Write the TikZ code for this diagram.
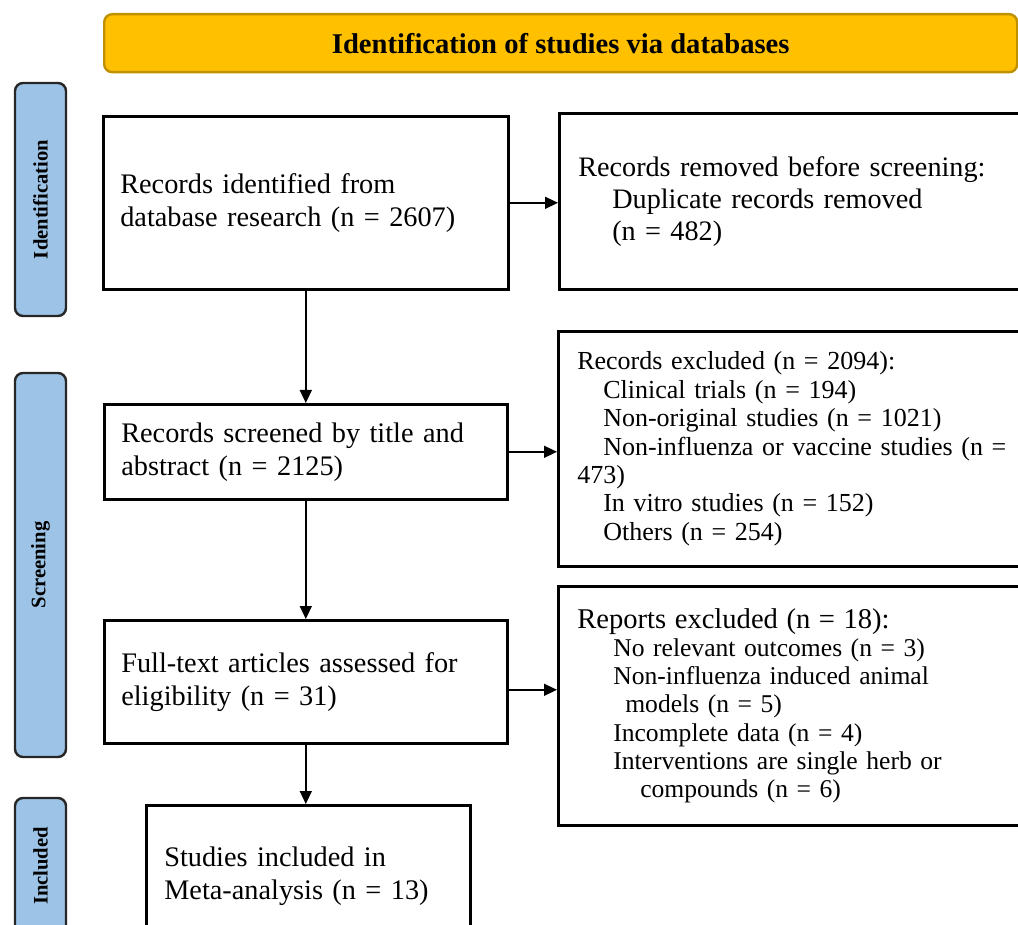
\documentclass[tikz,border=0pt]{standalone}
\usepackage{fontspec}
\setmainfont{Liberation Serif}
\usetikzlibrary{arrows.meta}
\definecolor{bannerfill}{HTML}{FFC000}
\definecolor{bannerline}{HTML}{BF9000}
\definecolor{phaseblue}{HTML}{9DC3E6}

\begin{document}
\begin{tikzpicture}[x=0.5pt, y=-0.5pt,
    box/.style={draw, line width=1.3pt, rectangle, anchor=north west, align=left, inner xsep=8.5pt},
    ltext/.style={font=\fontsize{14.15pt}{16.5pt}\selectfont},
    rtext/.style={font=\fontsize{13pt}{14.2pt}\selectfont},
    phase/.style={draw=black!85, line width=1.2pt, fill=phaseblue, rounded corners=4pt, rotate=90,
        minimum height=25.5pt, inner sep=0pt, font=\bfseries\fontsize{10.3pt}{12pt}\selectfont},
    arr/.style={line width=0.75pt, -{Triangle[length=6.5pt,width=6pt]}}]
    %%%%% START %%%%%
    \useasboundingbox (0,0) rectangle (1018,925);
    \clip (0,0) rectangle (1018,925);

    % banner
    \node[draw=bannerline, line width=1.2pt, fill=bannerfill, rounded corners=4pt, anchor=north west,
        minimum width=456.5pt, minimum height=29pt, font=\bfseries\fontsize{14.3pt}{16pt}\selectfont]
        (banner) at (103,13) {Identification of studies via databases};

    % phases
    \node[phase, minimum width=116.5pt] (ident) at (40.5,199.5) {Identification};
    \node[phase, minimum width=192pt] (screen) at (40.5,565) {Screening};
    \node[phase, minimum width=68pt] (incl) at (40.5,866) {Included};

    % left column
    \node[box, ltext, text width=185.5pt, minimum height=86.5pt] (records) at (102,115)
        {Records identified from\\database research (n = 2607)};
    \node[box, ltext, text width=184.5pt, minimum height=47.5pt] (screened) at (103,403)
        {Records screened by title and\\abstract (n = 2125)};
    \node[box, ltext, text width=184.5pt, minimum height=61.5pt] (fulltext) at (103,619)
        {Full-text articles assessed for\\eligibility (n = 31)};
    \node[box, ltext, text width=144pt, inner xsep=9pt, minimum height=71pt] (included) at (145,804)
        {Studies included in\\Meta-analysis (n = 13)};

    % right column
    \node[box, font=\fontsize{14.1pt}{16pt}\selectfont, text width=223pt, inner xsep=9.5pt, minimum height=88pt] (removed) at (558,112)
        {Records removed before screening:\\
         \hspace*{17pt}Duplicate records removed\\
         \hspace*{17pt}(n = 482)};
    \node[box, rtext, text width=223pt, inner xsep=9.5pt, minimum height=117.5pt] (excluded) at (557,330)
        {Records excluded (n = 2094):\\
         \hspace*{13pt}Clinical trials (n = 194)\\
         \hspace*{13pt}Non-original studies (n = 1021)\\
         \hspace*{13pt}Non-influenza or vaccine studies (n =\\
         473)\\
         \hspace*{13pt}In vitro studies (n = 152)\\
         \hspace*{13pt}Others (n = 254)};
    \node[box, font=\fontsize{12.8pt}{14.15pt}\selectfont, text width=223pt, inner xsep=9.5pt, minimum height=119.5pt] (reports) at (557,585)
        {{\fontsize{14.3pt}{14.15pt}\selectfont Reports excluded (n = 18):}\\
         \hspace*{18pt}No relevant outcomes (n = 3)\\
         \hspace*{18pt}Non-influenza induced animal\\
         \hspace*{24pt}models (n = 5)\\
         \hspace*{18pt}Incomplete data (n = 4)\\
         \hspace*{18pt}Interventions are single herb or\\
         \hspace*{31.5pt}compounds (n = 6)};

    % arrows
    \draw[arr] (records.south) -- (screened.north);
    \draw[arr] (records.east) -- (records.east -| removed.west);
    \draw[arr] (screened.east) -- (screened.east -| excluded.west);
    \draw[arr] (screened.south) -- (fulltext.north);
    \draw[arr] ([yshift=-4pt]fulltext.east) -- ([yshift=-4pt]fulltext.east -| reports.west);
    \draw[arr] (fulltext.south) -- (fulltext.south |- included.north);
    %%%%% END %%%%%
\end{tikzpicture}
\end{document}
